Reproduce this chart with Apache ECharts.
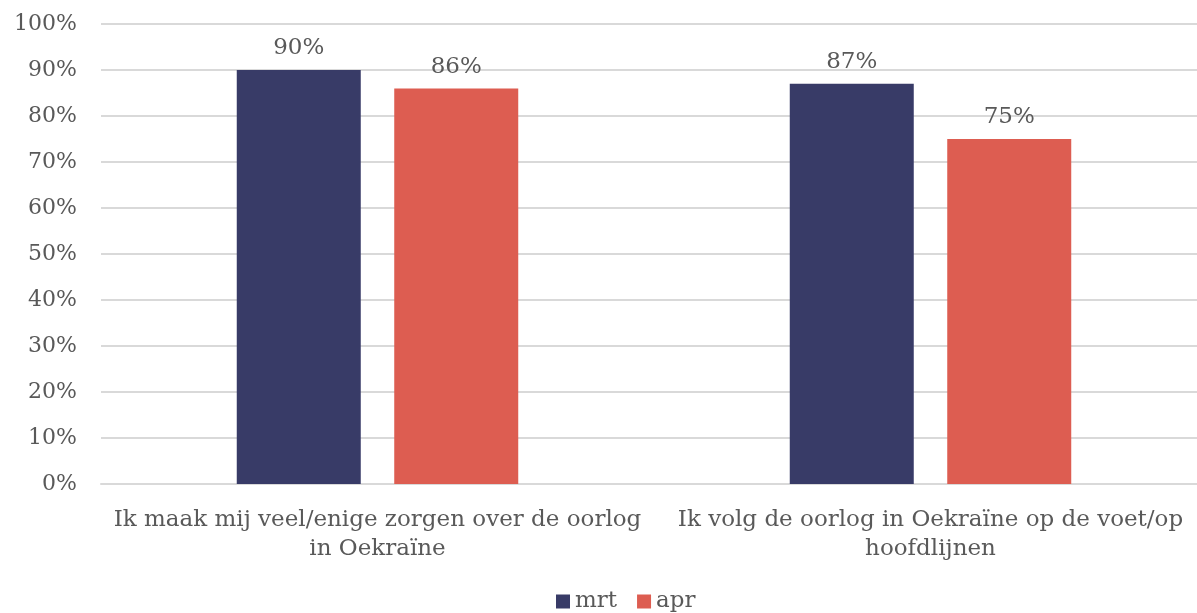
<!DOCTYPE html>
<html>
<head>
<meta charset="utf-8">
<script src="https://cdn.jsdelivr.net/npm/echarts@6/dist/echarts.min.js"></script>
<style>
  html, body { margin: 0; padding: 0; background: #fff; }
  #chart { width: 1197px; height: 613px; }
</style>
</head>
<body>
<div id="chart"></div>
<script>
const categories = [
  'Ik maak mij veel/enige zorgen over de oorlog\nin Oekraïne',
  'Ik volg de oorlog in Oekraïne op de voet/op\nhoofdlijnen'
]
const seriesNames = ['mrt', 'apr']
const mrtValues = [90, 87]
const aprValues = [86, 75]

const font = '"DejaVu Serif", serif'
const textColor = '#595959'

const chart = echarts.init(document.getElementById('chart'))

const barLabel = {
  show: true,
  position: 'top',
  distance: 10,
  formatter: '{c}%',
  color: textColor,
  fontFamily: font,
  fontSize: 23
}

chart.setOption({
  animation: false,
  grid: {
    left: 101,
    width: 1106,
    top: 24,
    height: 460,
    outerBoundsMode: 'none'
  },
  legend: {
    top: 585,
    left: 551,
    itemWidth: 14,
    itemHeight: 14,
    itemGap: 20,
    itemStyle: { borderWidth: 0 },
    icon: 'rect',
    textStyle: { color: textColor, fontFamily: font, fontSize: 23 },
    data: seriesNames
  },
  xAxis: {
    type: 'category',
    data: categories,
    axisTick: { show: false },
    axisLine: { lineStyle: { color: '#d9d9d9', width: 2 } },
    axisLabel: {
      color: textColor,
      fontFamily: font,
      fontSize: 23,
      lineHeight: 29,
      margin: 22,
      interval: 0
    }
  },
  yAxis: {
    type: 'value',
    min: 0,
    max: 100,
    interval: 10,
    axisLabel: {
      formatter: '{value}%',
      color: textColor,
      fontFamily: font,
      fontSize: 22,
      margin: 24
    },
    splitLine: { lineStyle: { color: '#d9d9d9', width: 2 } }
  },
  series: [
    {
      name: seriesNames[0],
      type: 'bar',
      data: mrtValues,
      barWidth: 124,
      barGap: '27%',
      itemStyle: { color: '#383b67' },
      label: barLabel
    },
    {
      name: seriesNames[1],
      type: 'bar',
      data: aprValues,
      barWidth: 124,
      itemStyle: { color: '#dd5d51' },
      label: barLabel
    }
  ]
})
</script>
</body>
</html>
